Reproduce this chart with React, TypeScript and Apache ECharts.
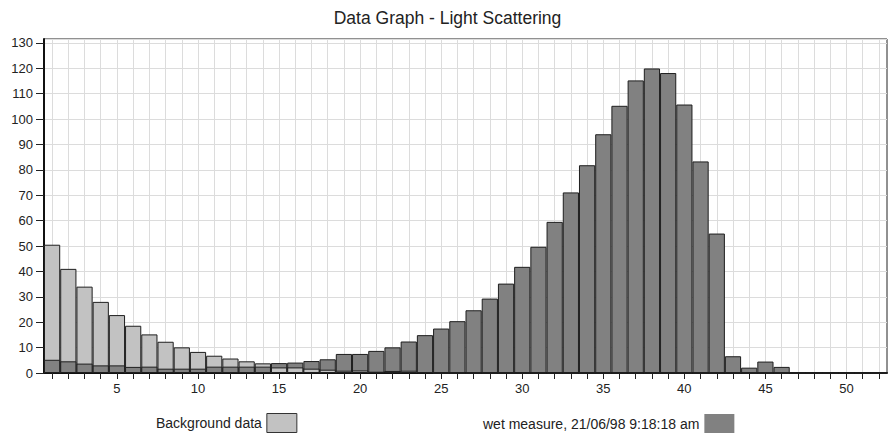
import React, { useEffect, useRef } from "react";
import * as echarts from "echarts";

const categories: string[] = Array.from({ length: 52 }, (_, i) => String(i + 1));

const backgroundData: number[] = [
  50.5, 41, 34, 28, 22.8, 18.6, 15.2, 12.3, 10.1, 8.3,
  6.8, 5.7, 4.6, 3.8, 2.2, 2.2, 1.7, 1.3, 0.9, 1.0,
  0.5, 0.8, 0.9, 0.3, 0, 0, 0, 0, 0, 0,
  0, 0, 0, 0, 0, 0, 0, 0, 0, 0,
  0, 0, 0, 0, 0, 0, 0, 0, 0, 0,
  0, 0,
];

const wetData: number[] = [
  5.2, 4.6, 3.7, 3.0, 3.0, 2.4, 2.5, 1.7, 1.7, 1.7,
  2.5, 2.5, 2.5, 2.5, 3.9, 4.1, 4.7, 5.4, 7.5, 7.5,
  8.7, 10.1, 12.4, 14.9, 17.5, 20.4, 24.7, 29.3, 35.2, 41.8,
  49.7, 59.5, 71.1, 81.8, 94.0, 105.2, 115.2, 119.9, 118.1, 105.7,
  83.3, 54.9, 6.6, 2.1, 4.5, 2.4, 0, 0, 0, 0,
  0, 0,
];

const BG_NAME = "Background data";
const WET_NAME = "wet measure, 21/06/98 9:18:18 am";
const TITLE = "Data Graph - Light Scattering";

const FONT = "'Liberation Sans', Arial, Helvetica, sans-serif";
const LIGHT = "#c2c2c2";
const DARK = "#818181";
const EDGE = "#1e1e1e";

export default function App() {
  const ref = useRef<HTMLDivElement>(null);

  useEffect(() => {
    if (!ref.current) return;
    const chart = echarts.init(ref.current, null, { renderer: "svg" });

    const bgFront = backgroundData.map((v, i) => (v < wetData[i] ? v : "-"));

    chart.setOption({
      animation: false,
      backgroundColor: "#ffffff",
      title: {
        text: TITLE,
        left: "center",
        top: 4,
        textStyle: { fontFamily: FONT, fontSize: 17.5, fontWeight: "normal", color: "#222" },
      },
      legend: [
        {
          data: [
            {
              name: BG_NAME,
              icon: "rect",
              itemStyle: { color: LIGHT, borderColor: "#333", borderWidth: 1 },
            },
          ],
          left: 156,
          top: 413,
          padding: 0,
          align: "right",
          itemWidth: 30,
          itemHeight: 19,
          selectedMode: false,
          textStyle: { fontFamily: FONT, fontSize: 14, color: "#222" },
        },
        {
          data: [
            {
              name: WET_NAME,
              icon: "rect",
              itemStyle: { color: DARK, borderWidth: 0 },
            },
          ],
          left: 483,
          top: 414,
          padding: 0,
          align: "right",
          itemWidth: 30,
          itemHeight: 19,
          selectedMode: false,
          textStyle: { fontFamily: FONT, fontSize: 14, color: "#222" },
        },
      ],
      grid: {
        left: 44,
        right: 8,
        top: 39,
        bottom: 61,
        show: true,
        borderColor: "#222",
        borderWidth: 1,
        backgroundColor: "transparent",
        containLabel: false,
      },
      xAxis: {
        type: "category",
        data: categories,
        boundaryGap: true,
        axisLine: { show: true, lineStyle: { color: "#111", width: 2 } },
        axisTick: {
          show: true,
          alignWithLabel: true,
          interval: 0,
          length: 6,
          lineStyle: { color: "#222", width: 1 },
        },
        axisLabel: {
          interval: (idx: number) => (idx + 1) % 5 === 0,
          fontFamily: FONT,
          fontSize: 13,
          color: "#222",
          margin: 9,
        },
        splitLine: {
          show: true,
          interval: 0,
          alignWithLabel: true,
          lineStyle: { color: "#dcdcdc", width: 1 },
        },
      },
      yAxis: {
        type: "value",
        min: 0,
        max: 131.5,
        interval: 10,
        axisLine: { show: true, lineStyle: { color: "#111", width: 2 } },
        axisTick: { show: true, length: 8, lineStyle: { color: "#222", width: 1 } },
        axisLabel: {
          fontFamily: FONT,
          fontSize: 13,
          color: "#222",
          margin: 11,
          showMaxLabel: false,
        },
        splitLine: { show: true, lineStyle: { color: "#dcdcdc", width: 1 } },
      },
      series: [
        {
          name: BG_NAME,
          type: "bar",
          data: backgroundData,
          barWidth: "100%",
          barGap: "-100%",
          barCategoryGap: 0,
          itemStyle: { color: LIGHT, borderColor: EDGE, borderWidth: 1 },
          z: 2,
        },
        {
          name: WET_NAME,
          type: "bar",
          data: wetData,
          barWidth: "100%",
          barGap: "-100%",
          barCategoryGap: 0,
          itemStyle: { color: DARK, borderColor: EDGE, borderWidth: 1 },
          z: 3,
        },
        {
          name: BG_NAME,
          type: "bar",
          data: bgFront,
          barWidth: "100%",
          barGap: "-100%",
          barCategoryGap: 0,
          itemStyle: { color: LIGHT, borderColor: EDGE, borderWidth: 1 },
          z: 4,
        },
      ],
    });

    return () => chart.dispose();
  }, []);

  return (
    <div
      ref={ref}
      style={{ position: "fixed", left: 0, top: 0, width: 895, height: 434 }}
    />
  );
}
